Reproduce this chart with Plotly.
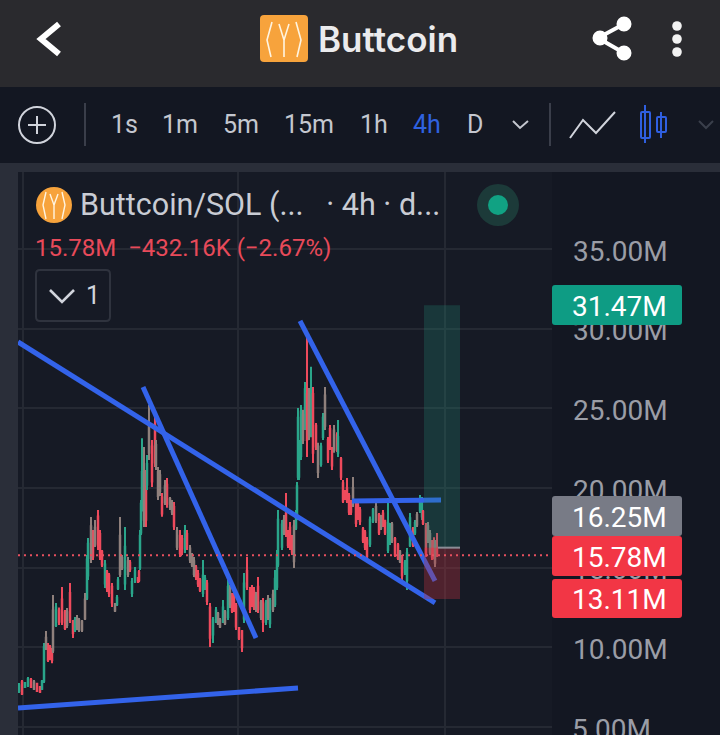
import plotly.graph_objects as go

# --- data (prices in millions) ---
bars = [1,4,7,10,13,16,19,22,24,26,
        28,30,32,34,35,38,41,44,47,49,
        52,55,57,59,61,64,67,69,70,73,
        75,77,80,82,84,87,89,91,94,97,
        99,100,102,104,107,110,112,114,117,120,
        121,122,123,124,126,128,129,131,134,137,
        138,140,142,144,147,149,152,154,156,159,
        162,164,167,169,172,174,176,178,180,182,
        185,187,189,192,195,198,200,202,205,207,
        210,212,214,216,218,221,224,226,229,232,
        234,236,238,240,243,245,248,250,252,255,
        257,259,260,264,266,268,270,272,274,276,
        278,279,280,281,283,285,287,289,291,293,
        295,298,300,303,305,307,310,312,314,316,
        319,320,323,325,327,329,331,333,335,338,
        340,342,345,347,349,352,355,358,361,363,
        365,367,370,372,374,377,380,382,384,387,
        389,392,395,397,399,402,404,405,408,410,
        412,414,416,417,419]
highs = [7.76,7.94,7.82,8.13,8.07,7.94,7.76,7.57,7.94,10.27,
         11.02,10.27,10.14,9.95,13.28,12.78,12.5,13.78,12.34,12.46,
         14.03,11.71,11.9,12.02,11.84,11.71,13.4,15.79,16.86,18.18,
         17.36,17.99,18.62,17.36,16.1,15.48,14.85,14.66,14.03,12.78,
         13.28,14.41,18.18,15.79,17.55,15.66,15.48,14.35,15.04,14.41,
         14.85,17.36,19.24,23.12,22.57,21.13,22.06,25.2,23.0,24.7,
         23.0,21.32,21.13,19.68,20.5,20.62,19.43,19.24,19.12,17.55,
         17.36,17.05,17.67,17.36,16.42,15.92,15.67,15.16,14.85,14.35,
         15.48,14.53,14.22,12.78,11.9,12.53,12.21,11.84,12.97,12.34,
         14.22,13.91,13.4,13.6,12.78,11.27,11.08,14.66,15.67,13.78,
         13.91,13.78,13.47,14.41,12.97,13.09,12.97,13.28,13.09,13.6,
         14.85,16.1,18.62,17.99,18.3,19.68,17.36,17.86,17.05,17.99,
         18.62,20.37,25.02,23.0,25.2,24.9,26.65,29.6,26.27,27.6,
         26.34,24.08,22.83,22.83,24.7,26.34,23.2,23.95,22.57,23.95,
         23.5,24.27,21.94,20.5,19.87,20.62,19.68,19.24,20.69,19.05,
         19.05,18.8,17.55,17.36,16.92,18.2,18.74,19.24,18.43,18.3,
         18.62,18.0,19.37,17.8,17.86,16.92,16.54,16.1,15.79,15.48,
         16.23,18.43,17.55,17.99,18.49,19.56,19.43,18.62,17.8,17.86,
         17.36,16.73,16.9,16.73,17.17]
lows = [7.13,7.0,7.44,7.5,7.44,7.32,7.19,7.13,7.32,7.76,
        9.83,9.07,9.2,9.0,9.64,11.27,11.4,11.4,11.08,11.2,
        11.52,10.58,10.96,11.08,10.96,10.96,11.71,12.97,14.22,15.29,
        15.48,16.29,16.1,15.48,15.04,13.72,13.47,13.15,12.53,12.21,
        12.59,13.59,14.41,14.85,13.59,14.41,14.72,13.15,14.03,14.03,
        14.1,14.85,17.05,18.52,17.55,17.55,19.87,21.75,20.06,21.32,
        21.13,19.24,19.5,18.19,18.93,18.76,18.62,18.3,17.36,16.1,
        15.67,15.79,15.92,16.1,15.29,15.04,14.41,14.22,13.78,13.47,
        13.15,13.59,12.65,10.02,10.27,11.52,11.4,11.21,11.52,11.4,
        11.71,12.46,12.15,12.21,11.08,10.45,9.7,11.52,13.59,12.15,
        12.53,12.34,12.21,12.15,11.71,10.96,11.4,11.71,11.21,12.21,
        12.53,13.59,15.04,16.1,17.05,16.92,16.23,16.1,15.79,14.97,
        17.36,17.99,20.5,20.5,21.75,22.76,23.64,21.94,23.0,23.18,
        21.56,22.38,20.62,21.33,23.0,23.64,21.56,22.38,21.13,22.2,
        22.25,21.94,20.5,19.05,19.24,19.05,18.3,18.3,18.8,17.55,
        17.99,17.67,16.54,16.1,15.48,16.29,17.8,17.8,17.05,17.36,
        17.55,17.05,15.92,16.42,16.54,15.67,15.48,15.29,14.03,14.53,
        13.59,16.29,16.29,17.05,17.55,18.43,17.99,17.67,15.67,16.54,
        15.79,15.48,15.5,15.04,15.67]
opens = [7.25,7.8,7.5,7.6,7.95,7.8,7.7,7.5,7.4,7.9,
         10.0,10.1,10.0,9.8,9.8,11.4,12.3,13.0,12.2,11.4,
         13.4,11.6,11.1,11.3,11.7,11.1,11.8,13.1,14.5,15.6,
         17.1,17.5,18.2,17.1,16.0,14.0,14.7,14.5,13.8,12.7,
         12.7,13.7,14.6,15.6,14.0,15.4,15.3,13.4,14.2,14.35,
         14.7,15.0,17.2,18.8,18.0,20.6,20.2,22.2,22.6,24.0,
         22.7,21.0,20.8,19.4,20.1,20.2,19.3,19.0,18.8,17.3,
         17.0,16.8,16.2,17.1,16.2,15.7,15.4,15.0,14.6,14.2,
         13.4,13.7,14.0,12.5,10.8,11.6,12.1,11.7,11.6,12.2,
         11.9,13.6,13.2,13.3,12.6,11.2,11.0,11.8,14.8,13.6,
         13.6,13.5,13.2,13.8,12.8,12.8,11.6,13.0,11.5,12.4,
         12.7,13.8,15.2,16.3,17.2,18.4,17.2,17.5,16.9,15.4,
         17.5,18.2,20.7,20.7,22.0,23.0,24.0,25.9,25.8,23.5,
         25.9,23.9,22.6,21.5,23.2,23.9,23.0,23.7,22.3,23.6,
         23.3,22.2,21.8,20.3,19.8,20.0,19.5,19.1,20.0,18.9,
         18.9,18.6,17.4,17.2,16.7,16.5,17.9,18.0,18.3,18.1,
         18.4,17.9,16.1,16.6,17.7,16.8,16.4,16.0,15.6,14.7,
         14.2,16.4,17.4,17.2,17.7,18.6,18.2,18.5,17.6,17.6,
         17.1,16.5,16.6,15.3,16.21]
closes = [7.6,7.1,7.75,8.0,7.5,7.4,7.25,7.2,7.85,10.0,
          10.6,9.2,9.3,9.2,12.3,12.5,11.6,11.6,11.2,12.2,
          11.7,10.9,11.7,11.8,11.1,11.6,13.0,15.5,16.5,17.6,
          15.7,16.5,16.4,15.7,15.2,15.2,13.7,13.4,12.8,12.3,
          13.1,14.2,17.0,15.0,16.3,14.6,14.9,14.1,14.8,14.1,
          14.2,17.0,19.0,21.0,21.0,18.0,21.5,24.0,20.4,21.6,
          21.4,19.5,19.8,18.4,19.1,19.0,18.8,18.5,17.6,16.3,
          15.9,16.0,17.3,16.3,15.5,15.2,14.6,14.4,14.0,13.6,
          14.5,14.3,12.9,10.6,11.7,12.3,11.5,11.3,12.5,11.5,
          13.8,12.7,12.3,12.4,11.3,10.6,10.0,14.0,13.8,12.4,
          12.7,12.5,12.4,12.4,11.9,11.6,12.7,11.9,12.9,13.3,
          14.3,15.8,18.0,17.7,18.0,17.1,16.4,16.3,16.0,17.6,
          18.4,20.1,24.4,22.8,24.8,24.6,26.2,23.0,23.3,25.5,
          22.2,22.6,21.0,22.6,24.4,25.8,21.8,22.6,21.4,22.4,
          22.4,23.2,20.7,19.2,19.3,19.2,18.5,18.5,19.0,17.8,
          18.2,17.9,16.7,16.3,15.7,18.0,18.6,18.8,17.2,17.5,
          17.7,17.2,17.8,17.6,16.7,15.8,15.6,15.4,14.5,15.3,
          15.9,18.1,16.5,17.8,18.3,19.3,19.2,17.8,15.9,16.7,
          16.0,15.7,15.6,16.4,15.78]
# candles whose colour reads as a muted grey in the picture
tones = ("grggrmrrgg" "mrrrmgrrrm" "rrgmmmmggm" "rmrrrgrrrm" "ggmmgmrggr"
         "rgggmrgmrr" "mmmrmrmmrm" "rrgrmmmrrr" "ggrrggmmgm" "gmrrrrrgrr"
         "rrmrmrgmgm" "ggggmrrrrm" "gggggmgrmg" "rrmggmrrrm" "rgrrrrrrmr"
         "rrrrrggmrm" "rrggmrrmrg" "ggrgmggrrm" "mrrmr")

price_ticks = [5, 10, 15, 20, 25, 30, 35]
price_labels = ["5.00M", "10.00M", "15.00M", "20.00M", "25.00M", "30.00M", "35.00M"]
time_gridlines = [5, 220, 427]

last_price = 15.78
entry_price = 16.25
target_price = 31.47
stop_price = 13.11

trend_lines = [
    ([0, 417], [29.16, 12.79]),
    ([125, 238], [26.34, 10.58]),
    ([282, 417], [30.49, 14.16]),
    ([334, 423], [19.18, 19.24]),
    ([0, 280], [6.19, 7.44]),
]

W, H = 720, 735
X = lambda p: p / W
Y = lambda p: 1 - p / H
GREEN, RED, MUTED = "#2aa58a", "#ee4a5c", "#8f807c"
BLUE = "#3363ea"
AXIS_FONT = dict(family="Roboto", size=28, color="#9a9da6")

n = len(bars)
assert all(len(a) == n for a in (highs, lows, opens, closes, tones))

fig = go.Figure()


def candle_trace(ids, up, down):
    return go.Candlestick(
        x=[bars[i] for i in ids], open=[opens[i] for i in ids], high=[highs[i] for i in ids],
        low=[lows[i] for i in ids], close=[closes[i] for i in ids],
        increasing=dict(line=dict(color=up, width=2), fillcolor=up),
        decreasing=dict(line=dict(color=down, width=2), fillcolor=down),
        showlegend=False, hoverinfo="skip")


fig.add_trace(candle_trace([i for i in range(n) if tones[i] != "m"], GREEN, RED))
fig.add_trace(candle_trace([i for i in range(n) if tones[i] == "m"], MUTED, MUTED))

for xs, ys in trend_lines:
    fig.add_trace(go.Scatter(x=xs, y=ys, mode="lines", showlegend=False, hoverinfo="skip",
                             line=dict(color=BLUE, width=5)))

shapes = []
annos = []


def rect(x0, y0, x1, y1, fill, layer="below", line=None, lw=0):
    shapes.append(dict(type="rect", xref="paper", yref="paper", x0=X(x0), x1=X(x1), y0=Y(y0), y1=Y(y1),
                       fillcolor=fill, layer=layer, line=dict(color=line or fill, width=lw)))


def rrect(x0, y0, x1, y1, r, fill, line=None, lw=0, layer="above"):
    d = (f"M{X(x0+r)},{Y(y0)} L{X(x1-r)},{Y(y0)} Q{X(x1)},{Y(y0)} {X(x1)},{Y(y0+r)} "
         f"L{X(x1)},{Y(y1-r)} Q{X(x1)},{Y(y1)} {X(x1-r)},{Y(y1)} L{X(x0+r)},{Y(y1)} "
         f"Q{X(x0)},{Y(y1)} {X(x0)},{Y(y1-r)} L{X(x0)},{Y(y0+r)} Q{X(x0)},{Y(y0)} {X(x0+r)},{Y(y0)} Z")
    shapes.append(dict(type="path", xref="paper", yref="paper", path=d, fillcolor=fill, layer=layer,
                       line=dict(color=line or "rgba(0,0,0,0)", width=lw)))


def poly(pts, color, lw, fill=None):
    d = "M" + " L".join(f"{X(a)},{Y(b)}" for a, b in pts)
    shapes.append(dict(type="path", xref="paper", yref="paper", path=d, layer="above",
                       fillcolor=fill or "rgba(0,0,0,0)", line=dict(color=color, width=lw)))


def circle(cx, cy, r, fill, line=None, lw=0):
    shapes.append(dict(type="circle", xref="paper", yref="paper", x0=X(cx-r), x1=X(cx+r), y0=Y(cy-r), y1=Y(cy+r),
                       fillcolor=fill, layer="above", line=dict(color=line or "rgba(0,0,0,0)", width=lw)))


def text(s, x, y, size, color, anchor="left", weight=None, family="Roboto"):
    if anchor == "left":
        x -= 2
    annos.append(dict(text=s, xref="paper", yref="paper", x=X(x), y=Y(y), xanchor=anchor, yanchor="middle",
                      showarrow=False, font=dict(family=family, size=size, color=color, weight=weight)))


# page bands
rect(0, 0, 720, 87, "#2a2a2e")
rect(0, 87, 720, 163, "#131722")
rect(0, 163, 720, 172, "#2a2e39")
rect(0, 172, 18, 735, "#2a2e39")

# header
poly([(59, 24), (41, 39), (59, 54)], "#ffffff", 6)
rrect(260, 15, 308, 62, 4, "#f7a33c")
for pts in ([(272, 22), (267, 40), (271, 57)], [(296, 22), (301, 40), (297, 57)],
            [(279, 24), (284, 40), (284, 57)], [(289, 24), (284, 40)]):
    poly(pts, "#fff4e0", 1.6)
text("Buttcoin", 318, 39, 35, "#ebebed", weight=600, family="Inter")
poly([(624, 24), (598, 38), (624, 53)], "#ffffff", 4)
for cy, cx in ((24, 624), (38, 600), (53, 624)):
    circle(cx, cy, 7.5, "#ffffff")
for cy in (26, 39, 52):
    circle(677, cy, 4.8, "#f2f2f2")

# toolbar
circle(37, 125, 18, "rgba(0,0,0,0)", "#d1d4dc", 2)
poly([(28, 125), (46, 125)], "#d1d4dc", 2)
poly([(37, 116), (37, 134)], "#d1d4dc", 2)
poly([(85, 103), (85, 146)], "#3a3e4a", 2)
poly([(550, 103), (550, 146)], "#3a3e4a", 2)
for s, cx, col in (("1s", 124, "#c4c7cf"), ("1m", 180, "#c4c7cf"), ("5m", 241, "#c4c7cf"), ("15m", 309, "#c4c7cf"),
                   ("1h", 374, "#c4c7cf"), ("4h", 427, "#2f62e0"), ("D", 475, "#c4c7cf")):
    text(s, cx, 125, 25, col, anchor="center")
poly([(513, 121), (520, 128), (528, 121)], "#c4c7cf", 2)
poly([(570, 138), (583, 120), (596, 133), (615, 112)], "#d1d4dc", 2)
poly([(645, 105), (645, 143)], "#2f5fe0", 2)
rrect(641, 112, 650, 138, 1, "rgba(0,0,0,0)", "#2f5fe0", 2)
poly([(661, 112), (661, 138)], "#2f5fe0", 2)
rrect(657, 117, 666, 132, 1, "rgba(0,0,0,0)", "#2f5fe0", 2)
poly([(699, 121), (706, 128), (713, 121)], "#3a3f4b", 2)

# legend
circle(54, 205, 18, "#f7a33c")
for pts in ([(46, 192), (43, 205), (46, 219)], [(62, 192), (65, 205), (62, 219)],
            [(50, 194), (54, 205), (54, 219)], [(58, 194), (54, 205)]):
    poly(pts, "#fff4e0", 1.4)
text("Buttcoin/SOL (...&nbsp;&nbsp;&nbsp;· 4h · d...", 80, 205, 30.5, "#c9ccd4")
circle(498, 205, 21, "#1c3a39")
circle(498, 205, 10, "#11a283")
text("15.78M&nbsp;&nbsp;−432.16K (−2.67%)", 35, 248, 24, "#e84a5a")
rrect(36, 270, 110, 321, 4, "#161a25", "#2f333e", 2)
poly([(50, 290), (62, 302), (74, 290)], "#d1d4dc", 2.6)
text("1", 93, 295, 25, "#d1d4dc", anchor="center")

# position tool and price line
shapes.append(dict(type="rect", xref="x", yref="y", x0=406, x1=442, y0=entry_price, y1=target_price,
                   fillcolor="rgba(33,140,120,0.26)", line=dict(width=0), layer="above"))
shapes.append(dict(type="rect", xref="x", yref="y", x0=406, x1=442, y0=stop_price - 0.08, y1=entry_price,
                   fillcolor="rgba(180,50,65,0.36)", line=dict(width=0), layer="above"))
shapes.append(dict(type="line", xref="x", yref="y", x0=420, x1=442, y0=entry_price, y1=entry_price,
                   line=dict(color="#8a8d96", width=2), layer="above"))
shapes.append(dict(type="line", xref="x", yref="y", x0=0, x1=534, y0=last_price, y1=last_price,
                   line=dict(color="#e8505f", width=2, dash="2px,4px"), layer="above"))

# price tags
for s, y0, y1, col in (("31.47M", 285, 325, "#0e9c84"), ("16.25M", 496, 536, "#787b86"),
                       ("15.78M", 536, 576, "#f23645"), ("13.11M", 579, 618, "#f23645")):
    rrect(552, y0, 682, y1, 3, col)
    text(s, 572, (y0 + y1) / 2 + 1, 28, "#ffffff")

# the lowest price label sits partly off the page, where the axis would drop it
text(price_labels[0], 572, 729, AXIS_FONT["size"], AXIS_FONT["color"])

fig.update_layout(
    width=W, height=H, margin=dict(l=0, r=0, t=0, b=0),
    paper_bgcolor="#131722", plot_bgcolor="#161a25", showlegend=False,
    shapes=shapes, annotations=annos,
    xaxis=dict(domain=[18 / W, 552 / W], range=[0, 534], tickvals=time_gridlines, showticklabels=False,
               showgrid=True, gridcolor="#252933", gridwidth=1.5, zeroline=False, showline=False, ticks="",
               rangeslider=dict(visible=False), fixedrange=True),
    yaxis=dict(domain=[0, (H - 172) / H], range=[4.49, 39.83], side="right", tickvals=price_ticks,
               ticktext=[""] + price_labels[1:], showgrid=True, gridcolor="#252933", gridwidth=1.5, zeroline=False,
               showline=False, ticks="", ticklabelstandoff=20, ticklabelshift=2,
               tickfont=AXIS_FONT, fixedrange=True),
)

fig.write_html("out.html", config=dict(displayModeBar=False),
               post_script="document.body.style.margin='0';document.body.style.background='#131722';")
